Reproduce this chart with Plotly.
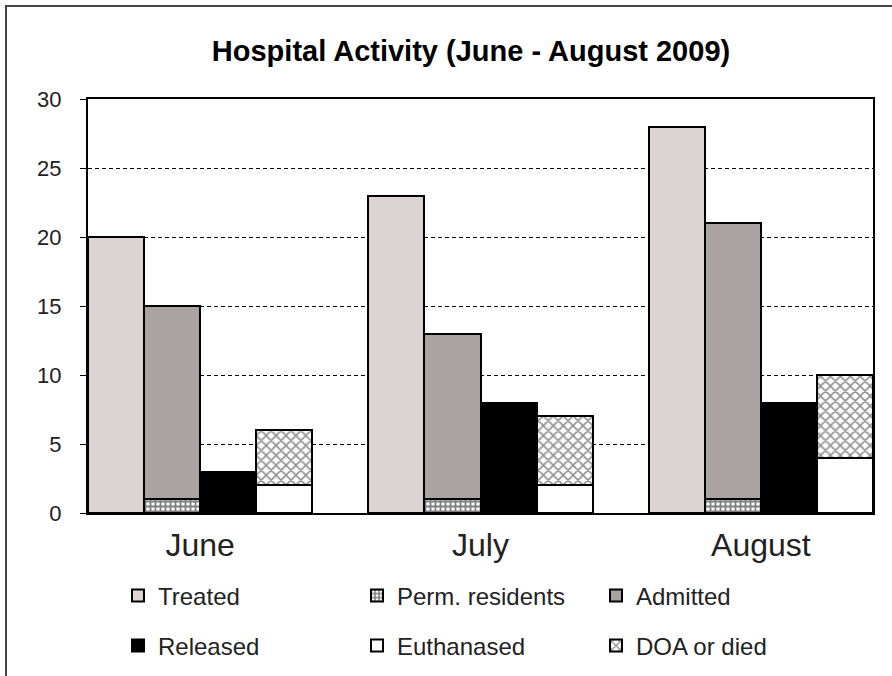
import numpy as np
import plotly.graph_objects as go

months = ["June", "July", "August"]
treated = [20, 23, 28]
perm_residents = [1, 1, 1]
admitted = [14, 12, 20]      # stacked on perm. residents (tops 15, 13, 21)
released = [3, 8, 8]
euthanased = [2, 2, 4]
doa_or_died = [4, 5, 6]      # stacked on euthanased (tops 6, 7, 10)
y_ticks = [0, 5, 10, 15, 20, 25, 30]

group_step = 5
centers = np.arange(len(months)) * group_step + 2
x_treated = centers - 1.5
x_admit = centers - 0.5
x_rel = centers + 0.5
x_dead = centers + 1.5

FONT = "Liberation Sans, Arial, sans-serif"
line = dict(color="black", width=2)

fig = go.Figure()
fig.add_bar(x=x_treated, y=treated, name="Treated", width=1,
            marker=dict(color="#DCD4D2", line=line), legend="legend")
fig.add_bar(x=x_admit, y=perm_residents, name="Perm. residents", width=1,
            marker=dict(color="white", line=line,
                        pattern=dict(shape="+", fgcolor="black", bgcolor="white",
                                     size=5, solidity=0.6)), legend="legend")
fig.add_bar(x=x_admit, y=admitted, name="Admitted", width=1,
            marker=dict(color="#ABA3A1", line=line), legend="legend")
fig.add_bar(x=x_rel, y=released, name="Released", width=1,
            marker=dict(color="black", line=line), legend="legend2")
fig.add_bar(x=x_dead, y=euthanased, name="Euthanased", width=1,
            marker=dict(color="white", line=line), legend="legend2")
fig.add_bar(x=x_dead, y=doa_or_died, name="DOA or died", width=1,
            marker=dict(color="white", line=line,
                        pattern=dict(shape="x", fgcolor="#222", bgcolor="white",
                                     size=7, solidity=0.4)), legend="legend2")

L, R, T, B = 88, 19, 99, 163
W, H = 892, 676
pw, ph = W - L - R, H - T - B

def px(xp):
    return (xp - L) / pw

def py(yp):
    return (H - B - yp) / ph

legend_common = dict(orientation="h", xanchor="left", yanchor="middle",
                     font=dict(family=FONT, size=24, color="#222"),
                     entrywidth=194, itemwidth=30, bgcolor="rgba(0,0,0,0)",
                     traceorder="normal")

fig.update_layout(
    width=W, height=H,
    margin=dict(l=L, r=R, t=T, b=B, autoexpand=False),
    barmode="stack",
    plot_bgcolor="white", paper_bgcolor="white",
    title=dict(text="Hospital Activity (June - August 2009)",
               x=px(471), xref="paper", xanchor="center",
               y=1 - 51 / H, yanchor="middle",
               font=dict(family=FONT, size=29, color="black", weight="bold")),
    xaxis=dict(range=[0, len(months) * group_step - 1], tickvals=centers,
               ticktext=months, ticks="", showgrid=False, zeroline=False,
               showline=True, linecolor="black", linewidth=2, mirror=True,
               tickfont=dict(family=FONT, size=32, color="#222"),
               ticklabelstandoff=3),
    yaxis=dict(range=[0, 30], tickvals=y_ticks, ticks="outside", ticklen=6,
               tickcolor="black", tickwidth=1, showline=True, linecolor="black",
               linewidth=2, mirror=True, showgrid=True, gridcolor="black",
               gridwidth=1, griddash="4px,3px", zeroline=False,
               tickfont=dict(family=FONT, size=22, color="#222"),
               ticklabelstandoff=14),
    legend=dict(x=px(118), y=py(596), **legend_common),
    legend2=dict(x=px(118), y=py(646), **legend_common),
    showlegend=True,
    shapes=[dict(type="rect", xref="paper", yref="paper",
                 x0=px(6), x1=px(1000), y0=py(800), y1=py(6),
                 line=dict(color="#444", width=2), fillcolor="rgba(0,0,0,0)",
                 layer="below")],
)

fig.write_html("out.html", config={"displayModeBar": False},
               post_script="document.body.style.margin='0';document.body.style.padding='0';")
